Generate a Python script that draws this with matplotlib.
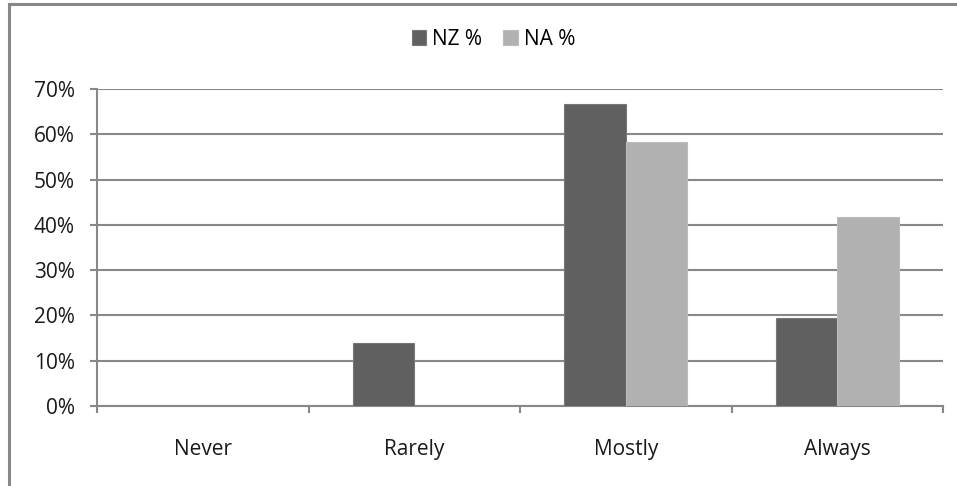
import numpy as np
import matplotlib.pyplot as plt
from matplotlib.lines import Line2D
from matplotlib.ticker import FixedLocator, PercentFormatter

categories = ["Never", "Rarely", "Mostly", "Always"]
nz_pct = [0.0, 13.9, 66.7, 19.4]
na_pct = [0.0, 0.0, 58.3, 41.7]
series_names = ["NZ %", "NA %"]

grid_grey = "#888888"

plt.rcParams['font.family'] = ['Open Sans', 'DejaVu Sans']

fig = plt.figure(figsize=(9.57, 4.86), dpi=100)
ax = fig.add_axes([0.1014, 0.1646, 0.884, 0.6523])

x = np.arange(len(categories))
width = 0.29
ax.bar(x - width / 2, np.array(nz_pct) / 100, width, color="#606060",
       edgecolor="#777777", linewidth=0.8, label=series_names[0], zorder=3)
ax.bar(x + width / 2, np.array(na_pct) / 100, width, color="#b1b1b1",
       edgecolor="#bbbbbb", linewidth=0.8, label=series_names[1], zorder=3)

ax.set_xlim(-0.5, len(categories) - 0.5)
ax.set_ylim(0, 0.7)
ax.set_yticks(np.arange(0, 0.71, 0.1))
ax.yaxis.set_major_formatter(PercentFormatter(1.0, decimals=0))
ax.grid(axis="y", color=grid_grey, linewidth=1.5, zorder=0)

# category boundaries get the tick marks, labels sit between them
ax.xaxis.set_major_locator(FixedLocator(np.arange(-0.5, len(categories), 1.0)))
ax.xaxis.set_minor_locator(FixedLocator(x))
ax.set_xticklabels([""] * (len(categories) + 1))
ax.set_xticklabels(categories, minor=True)
ax.tick_params(axis="x", which="major", length=5, width=1.5, color=grid_grey,
               direction="out")
ax.tick_params(axis="x", which="minor", length=0, pad=24, labelsize=15,
               labelcolor="#1a1a1a")
ax.tick_params(axis="y", length=5, width=1.5, color=grid_grey, pad=11,
               labelsize=15, labelcolor="#1a1a1a")

for side in ["top", "right"]:
    ax.spines[side].set_visible(False)
for side in ["left", "bottom"]:
    ax.spines[side].set_color(grid_grey)
    ax.spines[side].set_linewidth(1.5)

fig.legend(loc="center", bbox_to_anchor=(0.5157, 0.919), ncol=2, frameon=False,
           fontsize=15, handlelength=0.7, handleheight=0.7,
           handletextpad=0.3, columnspacing=1.0)

# outer chart frame (only left and top edges show)
fig.add_artist(Line2D([0.0094, 0.0094], [0, 0.992], color=grid_grey, linewidth=2.2))
fig.add_artist(Line2D([0.0094, 1.0], [0.992, 0.992], color=grid_grey, linewidth=2.2))

fig.savefig("out.png", dpi=100)
